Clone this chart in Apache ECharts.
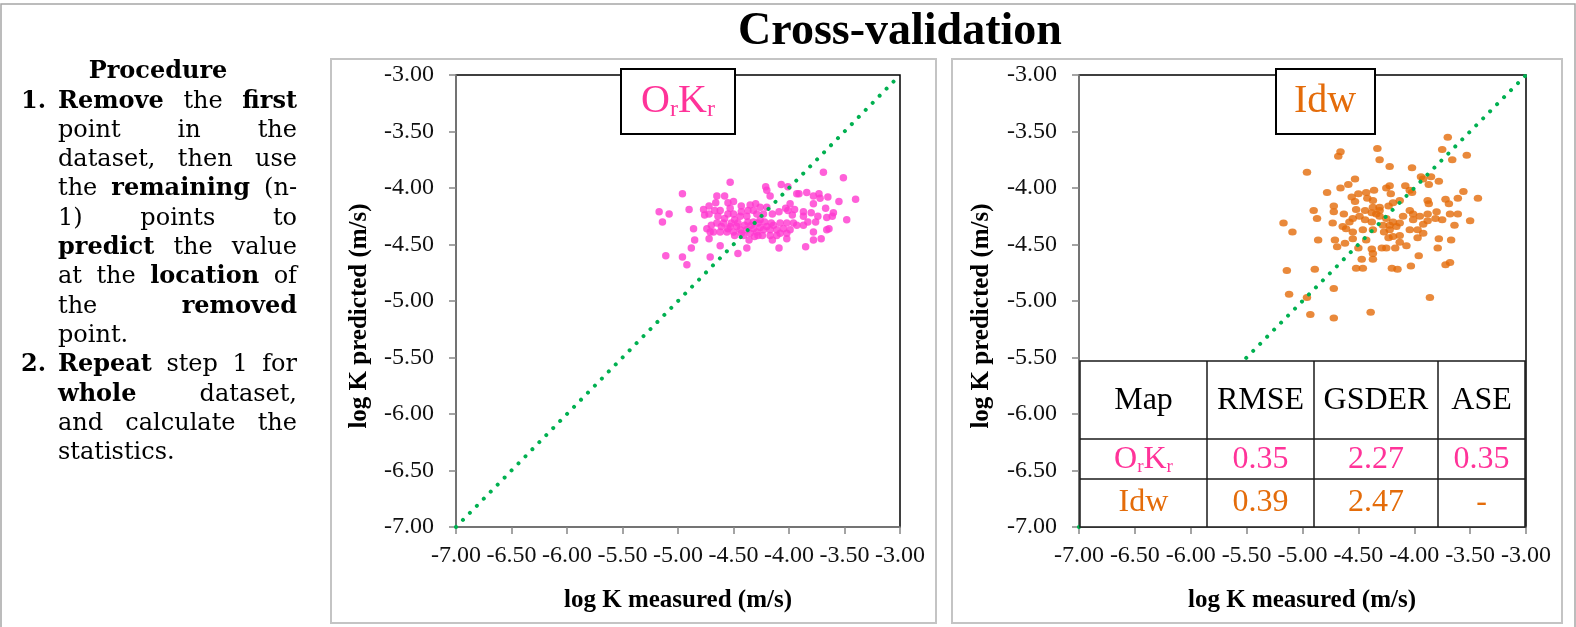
<!DOCTYPE html>
<html>
<head>
<meta charset="utf-8">
<script src="https://cdn.jsdelivr.net/npm/echarts@6/dist/echarts.min.js"></script>
<style>
  html, body { margin: 0; padding: 0; background: #fff; }
  #main { width: 1576px; height: 627px; }
</style>
</head>
<body>
<div id="main"></div>
<script>
// log K measured vs predicted (m/s)
var orkrPoints = [
  [-3.69,-3.86],[-3.51,-3.91],[-3.40,-4.10],[-3.48,-4.28],[-3.55,-4.12],[-4.53,-3.95],[-4.96,-4.05],[-5.17,-4.21],
  [-5.08,-4.23],[-5.14,-4.30],[-4.90,-4.19],[-5.11,-4.60],[-4.96,-4.61],[-4.92,-4.68],[-4.86,-4.36],[-4.85,-4.46],
  [-4.88,-4.53],[-4.71,-4.61],[-4.72,-4.45],[-4.71,-4.39],[-4.62,-4.51],[-4.46,-4.58],[-4.38,-4.53],[-4.65,-4.07],
  [-4.58,-4.07],[-4.66,-4.13],[-4.55,-4.13],[-4.50,-4.12],[-4.77,-4.19],[-4.72,-4.16],[-4.72,-4.23],[-4.62,-4.20],
  [-4.55,-4.23],[-4.50,-4.23],[-4.43,-4.16],[-4.35,-4.15],[-4.30,-4.14],[-4.21,-3.99],[-4.20,-4.02],[-4.17,-4.07],
  [-4.07,-3.97],[-4.01,-3.99],[-3.93,-4.05],[-3.91,-4.05],[-3.84,-4.04],[-3.78,-4.07],[-3.73,-4.05],[-3.72,-4.09],
  [-3.65,-4.08],[-3.78,-4.14],[-3.67,-4.18],[-3.60,-4.22],[-3.61,-4.25],[-3.74,-4.25],[-3.76,-4.30],[-3.66,-4.26],
  [-3.66,-4.37],[-3.64,-4.36],[-3.78,-4.39],[-3.78,-4.46],[-3.71,-4.45],[-3.85,-4.52],[-4.09,-4.53],[-4.15,-4.46],
  [-4.02,-4.45],[-4.02,-4.40],[-4.08,-4.40],[-4.24,-4.42],[-4.28,-4.42],[-4.36,-4.46],[-4.03,-4.18],[-4.01,-4.20],
  [-3.95,-4.19],[-3.87,-4.21],[-3.87,-4.25],[-3.80,-4.22],[-3.83,-4.30],[-3.96,-4.31],[-4.02,-4.31],[-4.20,-4.17],
  [-4.23,-4.23],[-4.15,-4.23],[-4.16,-4.31],[-4.26,-4.28],[-4.32,-4.30],[-4.38,-4.25],[-4.44,-4.25],[-4.49,-4.28],
  [-4.53,-4.34],[-4.59,-4.31],[-4.62,-4.39],[-4.56,-4.39],[-4.50,-4.39],[-4.44,-4.37],[-4.38,-4.37],[-4.32,-4.36],
  [-4.26,-4.35],[-4.20,-4.34],[-4.14,-4.33],[-4.08,-4.31],[-3.93,-4.33],[-3.87,-4.33],[-4.41,-4.42],[-4.35,-4.40],
  [-4.23,-4.37],[-4.29,-4.39],[-4.47,-4.34],[-4.65,-4.31],[-4.70,-4.33],[-4.64,-4.25],[-4.58,-4.27],[-4.43,-4.21],
  [-4.37,-4.20],[-4.29,-4.23],[-4.09,-4.21],[-3.97,-4.24],[-3.99,-4.14],[-4.61,-4.34],[-4.55,-4.36],[-4.52,-4.31],
  [-4.46,-4.31],[-4.40,-4.33],[-4.34,-4.33],[-4.28,-4.31],[-4.22,-4.30],[-4.17,-4.37],[-4.11,-4.37],[-4.05,-4.36],
  [-3.99,-4.37],[-4.43,-4.40],[-4.49,-4.42],[-4.31,-4.43],[-4.17,-4.42],[-4.11,-4.42],[-4.37,-4.30],[-4.32,-4.20],
  [-4.26,-4.17],[-4.53,-4.18],[-4.67,-4.20],[-4.76,-4.24],[-4.68,-4.39],[-4.74,-4.36]
];
var idwPoints = [
  [-3.70,-3.55],[-3.53,-3.71],[-3.66,-3.75],[-3.75,-3.66],[-4.33,-3.65],[-4.31,-3.75],[-4.22,-3.81],[-4.02,-3.82],
  [-4.66,-3.68],[-4.68,-3.72],[-4.96,-3.86],[-4.53,-3.92],[-4.59,-3.97],[-4.66,-4.00],[-4.78,-4.04],[-4.50,-4.05],
  [-4.43,-4.04],[-4.36,-4.02],[-4.22,-3.98],[-4.25,-4.00],[-4.21,-4.05],[-4.08,-3.98],[-4.04,-4.02],[-4.02,-4.04],
  [-3.94,-3.90],[-3.92,-3.92],[-3.85,-3.90],[-3.87,-3.97],[-3.78,-3.94],[-3.56,-4.03],[-3.61,-4.09],[-3.69,-4.14],
  [-3.72,-4.10],[-3.88,-4.11],[-3.87,-4.14],[-3.43,-4.09],[-4.90,-4.20],[-4.87,-4.27],[-5.17,-4.31],[-5.09,-4.39],
  [-4.86,-4.46],[-4.73,-4.31],[-4.72,-4.16],[-4.72,-4.21],[-4.63,-4.23],[-4.56,-4.08],[-4.53,-4.12],[-4.42,-4.09],
  [-4.37,-4.11],[-4.52,-4.19],[-4.44,-4.20],[-4.37,-4.17],[-4.31,-4.17],[-4.23,-4.16],[-4.19,-4.13],[-4.13,-4.11],
  [-4.04,-4.20],[-4.01,-4.23],[-3.88,-4.23],[-3.80,-4.21],[-3.68,-4.23],[-3.61,-4.23],[-3.50,-4.29],[-3.64,-4.33],
  [-3.75,-4.28],[-3.81,-4.27],[-3.88,-4.29],[-3.95,-4.25],[-3.92,-4.32],[-4.01,-4.28],[-4.04,-4.37],[-3.97,-4.37],
  [-4.13,-4.42],[-4.13,-4.31],[-4.22,-4.33],[-4.16,-4.34],[-4.27,-4.39],[-4.37,-4.37],[-4.43,-4.46],[-4.46,-4.37],
  [-4.55,-4.39],[-4.61,-4.36],[-4.64,-4.34],[-4.58,-4.30],[-4.55,-4.27],[-4.49,-4.25],[-4.44,-4.28],[-4.38,-4.30],
  [-4.31,-4.25],[-4.25,-4.27],[-4.19,-4.30],[-4.10,-4.25],[-4.71,-4.46],[-4.69,-4.52],[-4.62,-4.49],[-4.55,-4.45],
  [-4.50,-4.53],[-4.38,-4.54],[-4.37,-4.58],[-4.47,-4.63],[-4.37,-4.63],[-4.29,-4.53],[-4.25,-4.53],[-4.17,-4.53],
  [-4.23,-4.44],[-4.19,-4.43],[-4.13,-4.48],[-4.07,-4.51],[-3.97,-4.44],[-3.92,-4.40],[-3.78,-4.45],[-3.67,-4.46],
  [-3.79,-4.53],[-3.96,-4.60],[-4.03,-4.69],[-4.20,-4.71],[-4.15,-4.72],[-4.52,-4.71],[-4.46,-4.71],[-5.14,-4.73],
  [-4.89,-4.72],[-5.12,-4.94],[-4.96,-4.97],[-4.72,-4.89],[-4.93,-5.12],[-4.72,-5.15],[-4.39,-5.10],[-3.86,-4.97],
  [-3.68,-4.66],[-3.72,-4.68],[-4.31,-4.20],[-4.34,-4.23],[-4.38,-4.22],[-4.28,-4.33],[-4.22,-4.37]
];
var oneToOne = [[-7, -7], [-3, -3]];
var axisMin = -7, axisMax = -3, axisStep = 0.5;

var tableHeader = ['Map', 'RMSE', 'GSDER', 'ASE'];
var tableRows = [
  ['OrKr', '0.35', '2.27', '0.35'],
  ['Idw', '0.39', '2.47', '-']
];

var procedureLines = [
  { num: '1.', text: '^Remove the ^first', justify: true },
  { text: 'point in the', justify: true },
  { text: 'dataset, then use', justify: true },
  { text: 'the ^remaining (n-', justify: true },
  { text: '1) points to', justify: true },
  { text: '^predict the value', justify: true },
  { text: 'at the ^location of', justify: true },
  { text: 'the ^removed', justify: true },
  { text: 'point.', justify: false },
  { num: '2.', text: '^Repeat step 1 for', justify: true },
  { text: '^whole dataset,', justify: true },
  { text: 'and calculate the', justify: true },
  { text: 'statistics.', justify: false }
];

var PINK_DOT = '#ff38cf', PINK = '#ff3399', ORANGE = '#e46c0a', GREEN = '#00b050';
var SERIF = '"Liberation Serif", "Times New Roman", serif';
var BODY = '"DejaVu Serif", serif';

var chart = echarts.init(document.getElementById('main'));

var measureCtx = document.createElement('canvas').getContext('2d');
function textWidth(t, font) {
  measureCtx.font = font;
  return measureCtx.measureText(t).width;
}

function txt(s, x, y, font, align, color, extra) {
  var el = {
    type: 'text', x: x, y: y, z: 100, silent: true,
    style: {
      text: s, font: font, fill: color || '#000',
      align: align || 'left', verticalAlign: 'middle',
      textAlign: align || 'left', textVerticalAlign: 'middle'
    }
  };
  if (extra) {
    for (var k in extra) el[k] = extra[k];
  }
  return el;
}

// "OrKr" with subscripts, as rich text
function subLabel(name, x, y, size, subSize, drop, color) {
  var rich = {
    m: { fontFamily: SERIF, fontSize: size, lineHeight: size + 2, fill: color },
    s: { fontFamily: SERIF, fontSize: subSize, lineHeight: drop, verticalAlign: 'bottom', fill: color }
  };
  var t = name === 'OrKr' ? '{m|O}{s|r}{m|K}{s|r}' : '{m|' + name + '}';
  return {
    type: 'text', x: x, y: y, z: 101, silent: true,
    style: { text: t, rich: rich, align: 'center', verticalAlign: 'middle',
             textAlign: 'center', textVerticalAlign: 'middle' }
  };
}

var graphics = [];

// slide and panel frames
graphics.push({ type: 'rect', z: -1, silent: true, shape: { x: 1, y: 4, width: 1574, height: 640 },
  style: { fill: 'none', stroke: '#a6a6a6', lineWidth: 1.5 } });
graphics.push({ type: 'rect', z: -1, silent: true, shape: { x: 331, y: 59, width: 605, height: 564 },
  style: { fill: 'none', stroke: '#c4c4c4', lineWidth: 2 } });
graphics.push({ type: 'rect', z: -1, silent: true, shape: { x: 952, y: 59, width: 610, height: 564 },
  style: { fill: 'none', stroke: '#c4c4c4', lineWidth: 2 } });

// title
graphics.push(txt('Cross-validation', 900, 32, 'bold 46px ' + SERIF, 'center'));

// procedure text, justified like the slide
var bodySize = 24, lineTop = 72, lineStep = 29.3, textLeft = 58, textRight = 297;
graphics.push(txt('Procedure', 158, lineTop, 'bold ' + bodySize + 'px ' + BODY, 'center'));
procedureLines.forEach(function (line, i) {
  var y = lineTop + (i + 1) * lineStep;
  if (line.num) graphics.push(txt(line.num, 21, y, 'bold ' + bodySize + 'px ' + BODY, 'left'));
  var words = line.text.split(' ').map(function (w) {
    var bold = w.charAt(0) === '^';
    var t = bold ? w.slice(1) : w;
    var f = (bold ? 'bold ' : '') + bodySize + 'px ' + BODY;
    return { t: t, f: f, w: textWidth(t, f) };
  });
  var total = words.reduce(function (s, w) { return s + w.w; }, 0);
  var gap = (line.justify && words.length > 1)
    ? (textRight - textLeft - total) / (words.length - 1)
    : textWidth(' ', bodySize + 'px ' + BODY);
  var x = textLeft;
  words.forEach(function (w) {
    graphics.push(txt(w.t, x, y, w.f, 'left'));
    x += w.w + gap;
  });
});

// axis titles
var nameFont = 'bold 25px ' + SERIF;
graphics.push(txt('log K measured (m/s)', 678, 601, nameFont, 'center'));
graphics.push(txt('log K measured (m/s)', 1302, 601, nameFont, 'center'));
graphics.push(txt('log K predicted (m/s)', 360, 316, nameFont, 'center', '#000', { rotation: Math.PI / 2 }));
graphics.push(txt('log K predicted (m/s)', 982, 316, nameFont, 'center', '#000', { rotation: Math.PI / 2 }));

// method labels in boxes
graphics.push({ type: 'rect', z: 100, silent: true, shape: { x: 621, y: 69, width: 114, height: 65 },
  style: { fill: '#fff', stroke: '#000', lineWidth: 2 } });
graphics.push(subLabel('OrKr', 678, 101, 40, 24, 17, PINK));
graphics.push({ type: 'rect', z: 100, silent: true, shape: { x: 1276, y: 69, width: 99, height: 65 },
  style: { fill: '#fff', stroke: '#000', lineWidth: 2 } });
graphics.push(subLabel('Idw', 1325, 101, 40, 24, 17, ORANGE));

// statistics table over the Idw plot
var colX = [1080, 1207, 1314, 1438, 1525];
var rowY = [361, 439, 479, 527];
graphics.push({ type: 'rect', z: 100, silent: true,
  shape: { x: colX[0], y: rowY[0], width: colX[4] - colX[0], height: rowY[3] - rowY[0] },
  style: { fill: '#fff', stroke: '#1a1a1a', lineWidth: 1.5 } });
[1, 2, 3].forEach(function (c) {
  graphics.push({ type: 'line', z: 101, silent: true,
    shape: { x1: colX[c], y1: rowY[0], x2: colX[c], y2: rowY[3] },
    style: { stroke: '#1a1a1a', lineWidth: 1.5 } });
});
[1, 2].forEach(function (r) {
  graphics.push({ type: 'line', z: 101, silent: true,
    shape: { x1: colX[0], y1: rowY[r], x2: colX[4], y2: rowY[r] },
    style: { stroke: '#1a1a1a', lineWidth: 1.5 } });
});
var rowColors = [PINK, ORANGE];
tableHeader.forEach(function (h, c) {
  graphics.push(txt(h, (colX[c] + colX[c + 1]) / 2, 401, '32px ' + SERIF, 'center', '#000', { z: 102 }));
});
tableRows.forEach(function (row, r) {
  var cy = [460, 503][r];
  row.forEach(function (v, c) {
    var cx = (colX[c] + colX[c + 1]) / 2;
    if (c === 0) {
      graphics.push(subLabel(v, cx, cy, 32, 19, 19, rowColors[r]));
    } else {
      graphics.push(txt(v, cx, cy, '32px ' + SERIF, 'center', rowColors[r], { z: 102 }));
    }
  });
});

function valueAxis(gridIndex) {
  return {
    type: 'value', gridIndex: gridIndex,
    min: axisMin, max: axisMax, interval: axisStep,
    axisLine: { show: true, onZero: false, lineStyle: { color: '#868686', width: 1.5 } },
    axisTick: { show: true, inside: false, length: 7, lineStyle: { color: '#868686', width: 1.5 } },
    axisLabel: {
      fontFamily: SERIF, fontSize: 24, color: '#111',
      formatter: function (v) { return v.toFixed(2); }
    },
    splitLine: { show: false }
  };
}
var xAxes = [valueAxis(0), valueAxis(1)];
var yAxes = [valueAxis(0), valueAxis(1)];
xAxes.forEach(function (a) { a.axisLabel.margin = 17; });
yAxes.forEach(function (a) { a.axisLabel.margin = 22; });

function diagonal(i) {
  return {
    type: 'line', xAxisIndex: i, yAxisIndex: i, data: oneToOne,
    symbol: 'none', silent: true, z: 3,
    lineStyle: { color: GREEN, width: 4, type: [0.01, 9.9], cap: 'round' }
  };
}

chart.setOption({
  animation: false,
  backgroundColor: '#fff',
  grid: [
    { left: 456, top: 75, width: 444, height: 452, show: true, borderColor: '#000', borderWidth: 1.5, backgroundColor: '#fff' },
    { left: 1079, top: 75, width: 447, height: 452, show: true, borderColor: '#000', borderWidth: 1.5, backgroundColor: '#fff' }
  ],
  xAxis: xAxes,
  yAxis: yAxes,
  series: [
    { type: 'scatter', xAxisIndex: 0, yAxisIndex: 0, data: orkrPoints, symbolSize: 7.5,
      itemStyle: { color: PINK_DOT }, z: 2 },
    diagonal(0),
    { type: 'scatter', xAxisIndex: 1, yAxisIndex: 1, data: idwPoints, symbolSize: [8.5, 7],
      itemStyle: { color: ORANGE }, z: 2 },
    diagonal(1)
  ],
  graphic: graphics
});
</script>
</body>
</html>
